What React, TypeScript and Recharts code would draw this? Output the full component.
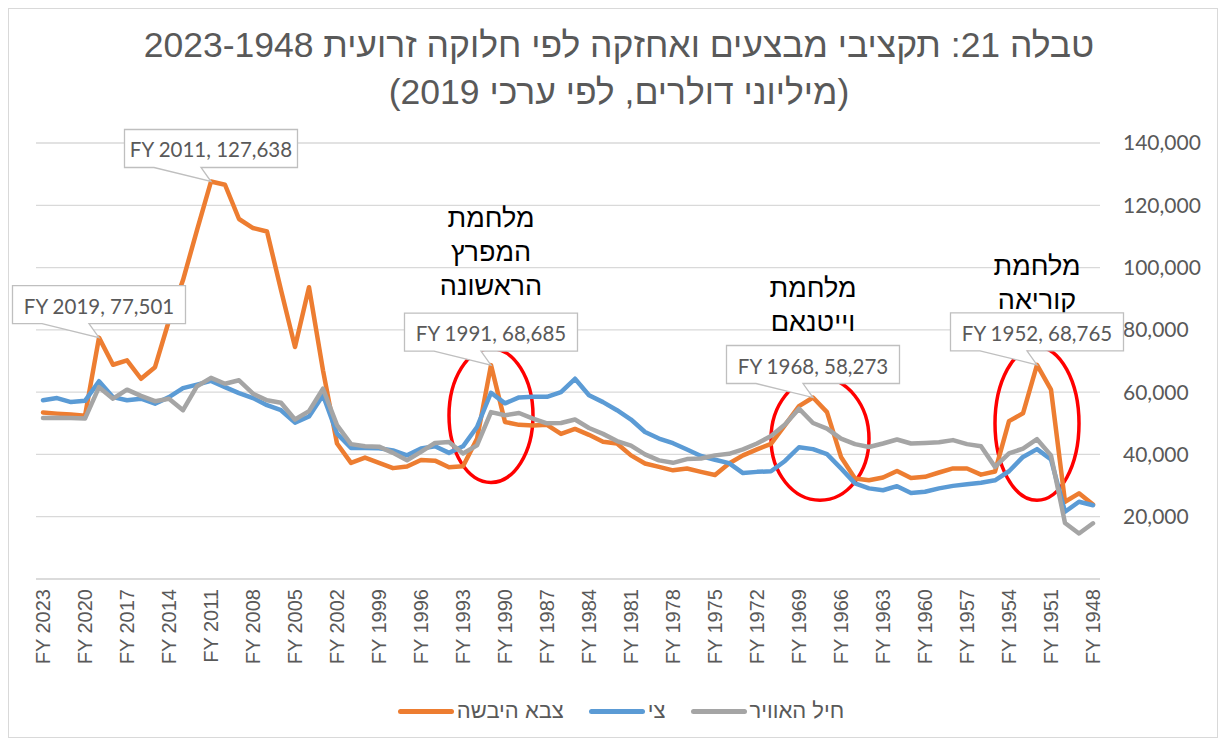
import React from 'react';
import { LineChart, Line, XAxis, YAxis, CartesianGrid, ReferenceArea, ReferenceDot } from 'recharts';

const years = [
  'FY 2023', 'FY 2022', 'FY 2021', 'FY 2020', 'FY 2019', 'FY 2018', 'FY 2017', 'FY 2016', 'FY 2015', 'FY 2014',
  'FY 2013', 'FY 2012', 'FY 2011', 'FY 2010', 'FY 2009', 'FY 2008', 'FY 2007', 'FY 2006', 'FY 2005', 'FY 2004',
  'FY 2003', 'FY 2002', 'FY 2001', 'FY 2000', 'FY 1999', 'FY 1998', 'FY 1997', 'FY 1996', 'FY 1995', 'FY 1994',
  'FY 1993', 'FY 1992', 'FY 1991', 'FY 1990', 'FY 1989', 'FY 1988', 'FY 1987', 'FY 1986', 'FY 1985', 'FY 1984',
  'FY 1983', 'FY 1982', 'FY 1981', 'FY 1980', 'FY 1979', 'FY 1978', 'FY 1977', 'FY 1976', 'FY 1975', 'FY 1974',
  'FY 1973', 'FY 1972', 'FY 1971', 'FY 1970', 'FY 1969', 'FY 1968', 'FY 1967', 'FY 1966', 'FY 1965', 'FY 1964',
  'FY 1963', 'FY 1962', 'FY 1961', 'FY 1960', 'FY 1959', 'FY 1958', 'FY 1957', 'FY 1956', 'FY 1955', 'FY 1954',
  'FY 1953', 'FY 1952', 'FY 1951', 'FY 1950', 'FY 1949', 'FY 1948',
];

// צבא היבשה
const army = [
  53500, 53100, 52800, 52400, 77501, 68800, 70200, 64300, 68000, 83000,
  96000, 112000, 127638, 126600, 115600, 112700, 111600, 92800, 74500, 93700,
  67000, 43500, 37300, 39000, 37300, 35600, 36100, 38200, 38000, 35900,
  36200, 45000, 68685, 50400, 49500, 49300, 49500, 46600, 48200, 46300,
  44100, 43500, 39700, 37100, 36000, 34900, 35500, 34400, 33400, 37100,
  39700, 41600, 43400, 49400, 55500, 58273, 53600, 39200, 32300, 31700,
  32600, 34700, 32400, 32800, 34200, 35500, 35500, 33500, 34500, 50700,
  53200, 68765, 60800, 24800, 27500, 23900,
];

// צי
const navy = [
  57400, 58100, 56800, 57200, 63500, 58400, 57400, 57900, 56300, 58400,
  61300, 62400, 63600, 61600, 59700, 58100, 55800, 54200, 50200, 52200,
  59000, 46700, 42100, 42100, 42000, 41300, 39700, 41900, 42600, 40500,
  42600, 48800, 59800, 56400, 58300, 58500, 58500, 60000, 64300, 59000,
  56800, 54200, 51200, 47200, 45100, 43600, 41600, 39500, 38300, 37200,
  34000, 34400, 34600, 37900, 42300, 41700, 40100, 35500, 30700, 29100,
  28500, 29800, 27600, 28000, 29100, 29900, 30400, 30900, 31700, 34600,
  39200, 41700, 38400, 21600, 24800, 23700,
];

// חיל האוויר
const airForce = [
  51700, 51800, 51700, 51500, 61600, 57900, 60800, 58800, 57100, 57900,
  54200, 61900, 64600, 62700, 63800, 59500, 57400, 56600, 51200, 53900,
  61100, 49400, 43300, 42600, 42500, 40500, 38100, 40800, 43700, 44000,
  40300, 42900, 53600, 52600, 53300, 51500, 50000, 50100, 51200, 48500,
  46600, 44300, 42800, 40000, 38100, 37300, 38500, 38700, 39700, 40200,
  41600, 43500, 45900, 49600, 54700, 50100, 48300, 45100, 43300, 42400,
  43500, 44800, 43500, 43700, 43900, 44600, 43300, 42600, 36000, 40300,
  41900, 44900, 39700, 18000, 14600, 17900,
];

const seriesKeys = ['army', 'navy', 'airForce'];
const seriesNames = ['צבא היבשה', 'צי', 'חיל האוויר'];
const seriesColors = ['#ED7D31', '#5B9BD5', '#A5A5A5'];

const yTicks = [0, 20000, 40000, 60000, 80000, 100000, 120000, 140000];

const calloutYears = ['FY 2019', 'FY 2011', 'FY 1991', 'FY 1968', 'FY 1952'];

const titleLines = [
  'טבלה 21: תקציבי מבצעים ואחזקה לפי חלוקה זרועית 2023-1948',
  '(מיליוני דולרים, לפי ערכי 2019)',
];

// war annotations, anchored in data space (centre of text block)
const warLabels = [
  { year: 'FY 1991', value: 105000, lines: ['מלחמת', 'המפרץ', 'הראשונה'] },
  { year: 'FY 1968', value: 88000, lines: ['מלחמת', 'וייטנאם'] },
  { year: 'FY 1952', value: 95000, lines: ['מלחמת', 'קוריאה'] },
];

// red ellipses, bounds in data space
const warEllipses = [
  { x1: 'FY 1994', x2: 'FY 1988', y1: 31000, y2: 74000 },
  { x1: 'FY 1971', x2: 'FY 1964', y1: 25300, y2: 64700 },
  { x1: 'FY 1955', x2: 'FY 1949', y1: 25300, y2: 74500 },
];

const data = years.map((year, i) => ({ year, army: army[i], navy: navy[i], airForce: airForce[i] }));

const W = 1210;
const H = 730;
const ARIAL = '"Liberation Sans", Arial, sans-serif';
const CAL = 'Lato, "Open Sans", sans-serif';
const GREY_TEXT = '#595959';

const XTick = (props: any) => {
  const { x, y, payload } = props;
  return (
    <text
      x={x}
      y={y}
      transform={`rotate(-90, ${x}, ${y})`}
      textAnchor="end"
      dominantBaseline="central"
      fill={GREY_TEXT}
      fontSize={20}
      fontFamily={ARIAL}
    >
      {payload.value}
    </text>
  );
};

const fmt = (v: number) => v.toLocaleString('en-US');

const renderCallout = (props: any) => {
  const { x, y, value } = props;
  let idx = props.index;
  if (idx === undefined || idx === null) idx = army.indexOf(value);
  const year = years[idx];
  if (!calloutYears.includes(year)) return null;
  const text = `${year}, ${fmt(value)}`;
  const w = 173;
  const h = 38;
  const gap = 14;
  const left = x - w / 2;
  const right = x + w / 2;
  const bottom = y - gap;
  const top = bottom - h;
  const d = `M${left},${top} H${right} V${bottom} H${x - 10} L${x},${y} L${x - 57},${bottom} H${left} Z`;
  return (
    <g key={`callout-${year}`}>
      <path d={d} fill="#FFFFFF" stroke="#BFBFBF" strokeWidth={1.3} />
      <text
        x={x}
        y={top + h / 2 + 1}
        textAnchor="middle"
        dominantBaseline="central"
        fill={GREY_TEXT}
        fontSize={20.5}
        fontFamily={CAL}
      >
        {text}
      </text>
    </g>
  );
};

const EllipseShape = (props: any) => {
  const { x, y, width, height } = props;
  return (
    <ellipse
      cx={x + width / 2}
      cy={y + height / 2}
      rx={Math.abs(width) / 2}
      ry={Math.abs(height) / 2}
      fill="none"
      stroke="#FF0000"
      strokeWidth={3.5}
    />
  );
};

const makeWarText = (lines: string[]) => (props: any) => {
  const { cx, cy } = props;
  const lh = 34;
  const start = cy - ((lines.length - 1) * lh) / 2;
  return (
    <g>
      {lines.map((ln, i) => (
        <text
          key={i}
          x={cx}
          y={start + i * lh}
          textAnchor="middle"
          dominantBaseline="central"
          direction="rtl"
          fill="#000000"
          fontSize={27}
          fontFamily={ARIAL}
        >
          {ln}
        </text>
      ))}
    </g>
  );
};

export default function App() {
  return (
    <div style={{ position: 'relative', width: W, height: H, fontFamily: ARIAL }}>
      <div
        style={{
          position: 'absolute',
          left: 0,
          top: 0,
          width: W,
          height: H,
          boxSizing: 'border-box',
          border: '1px solid #D9D9D9',
          pointerEvents: 'none',
        }}
      />
      <div
        style={{
          position: 'absolute',
          left: 6,
          top: 14,
          width: W,
          textAlign: 'center',
          direction: 'rtl',
          color: GREY_TEXT,
          fontSize: 35.5,
          lineHeight: '47px',
          fontFamily: ARIAL,
        }}
      >
        {titleLines.map((t, i) => (
          <div key={i}>{t}</div>
        ))}
      </div>
      <div style={{ position: 'absolute', left: 0, top: 0 }}>
        <LineChart width={W} height={H} data={data} margin={{ top: 135, right: 0, left: 28, bottom: 0 }}>
          <CartesianGrid vertical={false} stroke="#D9D9D9" strokeWidth={1.3} />
          <XAxis
            dataKey="year"
            interval={2}
            height={159}
            padding={{ left: 7, right: 7 }}
            axisLine={{ stroke: '#D9D9D9', strokeWidth: 1.3 }}
            tickLine={false}
            tickSize={0}
            tickMargin={10}
            tick={<XTick />}
          />
          <YAxis
            orientation="right"
            width={118}
            domain={[0, 140000]}
            ticks={yTicks}
            axisLine={false}
            tickLine={false}
            tickSize={0}
            tickMargin={23}
            tickFormatter={(v: number) => (v === 0 ? '' : fmt(v))}
            tick={{ fill: GREY_TEXT, fontSize: 21, fontFamily: CAL }}
          />
          {warEllipses.map((e, i) => (
            <ReferenceArea
              key={`el-${i}`}
              x1={e.x1}
              x2={e.x2}
              y1={e.y1}
              y2={e.y2}
              shape={<EllipseShape />}
            />
          ))}
          {seriesKeys.map((k, i) => (
            <Line
              key={k}
              type="linear"
              dataKey={k}
              name={seriesNames[i]}
              stroke={seriesColors[i]}
              strokeWidth={4.5}
              strokeLinejoin="round"
              strokeLinecap="round"
              dot={false}
              activeDot={false}
              isAnimationActive={false}
              label={k === 'army' ? renderCallout : undefined}
            />
          ))}
          {warLabels.map((w, i) => (
            <ReferenceDot
              key={`wl-${i}`}
              x={w.year}
              y={w.value}
              r={0}
              shape={makeWarText(w.lines)}
            />
          ))}
        </LineChart>
      </div>
      <div
        style={{
          position: 'absolute',
          left: 8,
          top: 690,
          width: W,
          display: 'flex',
          justifyContent: 'center',
          alignItems: 'center',
          gap: 25,
          direction: 'ltr',
        }}
      >
        {seriesNames.map((n, i) => (
          <div key={n} style={{ display: 'flex', alignItems: 'center', gap: 3 }}>
            <div style={{ width: 56, height: 5, borderRadius: 3, background: seriesColors[i] }} />
            <span style={{ color: GREY_TEXT, fontSize: 22, fontFamily: ARIAL, direction: 'rtl' }}>{n}</span>
          </div>
        ))}
      </div>
    </div>
  );
}
